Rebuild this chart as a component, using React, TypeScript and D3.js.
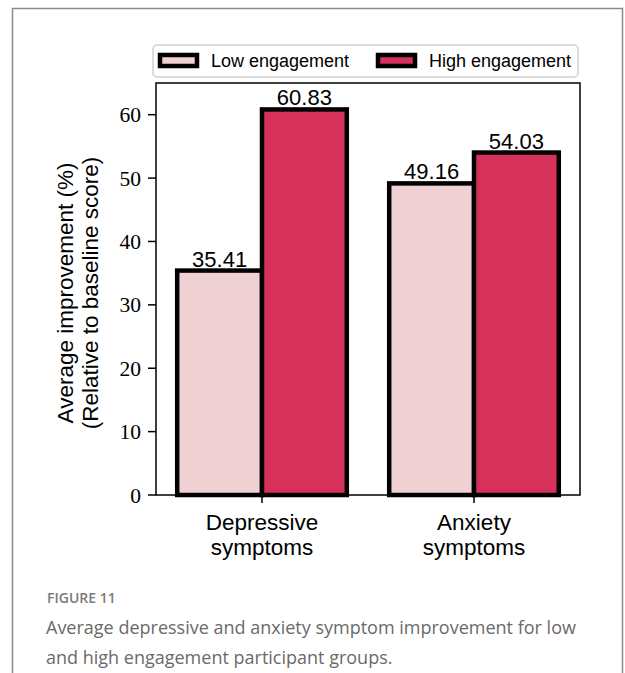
import React from "react";
import * as d3 from "d3";

const categories = ["Depressive\nsymptoms", "Anxiety\nsymptoms"];
const seriesNames = ["Low engagement", "High engagement"];
const lowValues = [35.41, 49.16];
const highValues = [60.83, 54.03];
const yTicks = [0, 10, 20, 30, 40, 50, 60];
const seriesColors = ["#efd0d3", "#d6315a"];

const W = 625;
const H = 673;
const plot = { left: 156, right: 580, top: 83, bottom: 495 };

export default function App() {
  const x = d3.scaleLinear().domain([-0.5, 1.5]).range([plot.left, plot.right]);
  const y = d3.scaleLinear().domain([0, 65]).range([plot.bottom, plot.top]);
  const barW = 0.4;
  const series = [lowValues, highValues];
  const sans = "'Liberation Sans', Arial, sans-serif";
  const serif = "'Liberation Serif', 'DejaVu Serif', serif";

  return (
    <svg
      width={W}
      height={H}
      style={{ position: "absolute", left: 0, top: 0, background: "#fff" }}
    >
      {/* outer frame */}
      <path d={`M12.5,${H} V8.5 H622.5 V${H}`} fill="none" stroke="#8a8a8a" strokeWidth={1.5} />

      {/* bars */}
      {series.map((vals, j) =>
        vals.map((v, i) => {
          const x0 = x(i - barW + barW * j);
          const x1 = x(i + barW * j);
          return (
            <rect
              key={`b${j}-${i}`}
              x={x0}
              y={y(v)}
              width={x1 - x0}
              height={y(0) - y(v)}
              fill={seriesColors[j]}
              stroke="#000"
              strokeWidth={4.5}
            />
          );
        })
      )}

      {/* value labels */}
      {series.map((vals, j) =>
        vals.map((v, i) => (
          <text
            key={`l${j}-${i}`}
            x={x(i - barW / 2 + barW * j)}
            y={y(v) - 4}
            textAnchor="middle"
            fontFamily={sans}
            fontSize={22}
          >
            {v.toFixed(2)}
          </text>
        ))
      )}

      {/* axes frame */}
      <rect
        x={plot.left}
        y={plot.top}
        width={plot.right - plot.left}
        height={plot.bottom - plot.top}
        fill="none"
        stroke="#000"
        strokeWidth={1.5}
      />

      {/* y ticks */}
      {yTicks.map((t) => (
        <g key={`yt${t}`}>
          <line x1={plot.left - 8} x2={plot.left} y1={y(t)} y2={y(t)} stroke="#000" strokeWidth={1.5} />
          <text
            x={plot.left - 15}
            y={y(t)}
            dy="0.35em"
            textAnchor="end"
            fontFamily={serif}
            fontSize={21.5}
          >
            {t}
          </text>
        </g>
      ))}

      {/* x ticks */}
      {categories.map((c, i) => (
        <g key={`xt${i}`}>
          <line x1={x(i)} x2={x(i)} y1={plot.bottom} y2={plot.bottom + 8} stroke="#000" strokeWidth={1.5} />
          {c.split("\n").map((line, k) => (
            <text
              key={k}
              x={x(i)}
              y={530 + k * 25}
              textAnchor="middle"
              fontFamily={sans}
              fontSize={22.5}
            >
              {line}
            </text>
          ))}
        </g>
      ))}

      {/* y axis label */}
      <g transform={`translate(0, ${(plot.top + plot.bottom) / 2 + 4}) rotate(-90)`}>
        <text x={0} y={73} textAnchor="middle" fontFamily={sans} fontSize={22.5}>
          Average improvement (%)
        </text>
        <text x={0} y={98} textAnchor="middle" fontFamily={sans} fontSize={22.5}>
          (Relative to baseline score)
        </text>
      </g>

      {/* legend */}
      <rect x={153} y={45} width={425} height={32} rx={4} fill="#fff" stroke="#d0d0d0" strokeWidth={1.5} />
      {seriesNames.map((name, j) => {
        const px = j === 0 ? 158 : 376;
        return (
          <g key={`lg${j}`}>
            <rect x={px + 2} y={55} width={37} height={11} fill={seriesColors[j]} stroke="#000" strokeWidth={4.5} />
            <text x={px + 53} y={67} fontFamily={sans} fontSize={18}>
              {name}
            </text>
          </g>
        );
      })}

      {/* caption */}
      <text x={47} y={603} fontFamily="'Open Sans', sans-serif" fontSize={14} fontWeight={600} fill="#7a7a7a">
        FIGURE 11
      </text>
      <text x={46} y={634} fontFamily="'Open Sans', sans-serif" fontSize={18} fill="#6a6a6a">
        Average depressive and anxiety symptom improvement for low
      </text>
      <text x={46} y={664} fontFamily="'Open Sans', sans-serif" fontSize={18} fill="#6a6a6a">
        and high engagement participant groups.
      </text>
    </svg>
  );
}
